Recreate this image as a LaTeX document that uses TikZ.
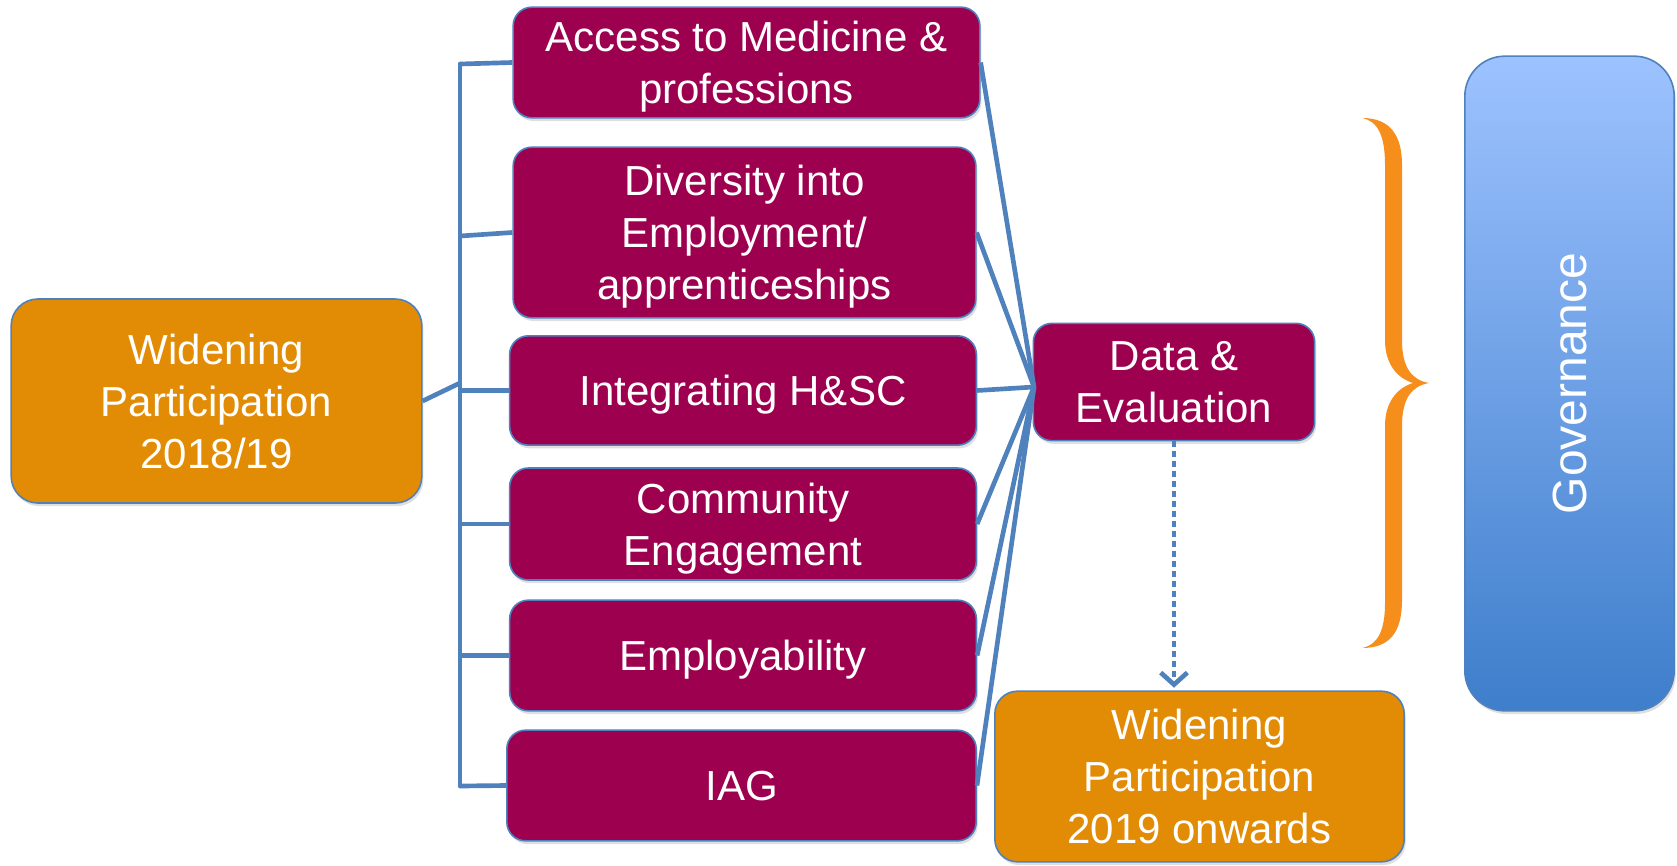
\documentclass[tikz,border=0pt]{standalone}
\usepackage{fontspec}
\setmainfont{Liberation Sans}
\usepackage{tikz}
\usetikzlibrary{arrows.meta,shadows}

\definecolor{wpOrange}{RGB}{226,139,5}
\definecolor{wpMagenta}{RGB}{158,0,80}
\definecolor{wpBlue}{RGB}{79,129,189}
\definecolor{braceOrange}{RGB}{246,142,28}
\definecolor{govTop}{RGB}{157,194,255}
\definecolor{govBottom}{RGB}{62,126,203}

\tikzset{
  boxshadow/.style={drop shadow={shadow xshift=1.2pt,shadow yshift=-2.4pt,opacity=0.25}},
  wpbox/.style={draw=wpBlue,line width=1.2pt,fill=wpOrange,rounded corners=20pt,text=white,
    align=center,font=\fontsize{31.5}{39}\selectfont,boxshadow,text depth=-1.5pt},
  strandbox/.style={draw=wpBlue,line width=1.2pt,fill=wpMagenta,rounded corners=14pt,text=white,
    align=center,font=\fontsize{31.5}{39}\selectfont,minimum width=350pt,minimum height=83pt,boxshadow,
    text depth=-1.5pt},
  link/.style={draw=wpBlue,line width=3.5pt},
}

\begin{document}
\begin{tikzpicture}[x=0.75pt,y=0.75pt,yscale=-1,xscale=1]
\useasboundingbox (0,0) rectangle (1677,865);

%Rounded Rect: starting point
\node [wpbox,minimum width=308pt,minimum height=153pt] (wp18) at (216.5,401) {Widening\\Participation\\2018/19};

%Rounded Rect: the six strands
\node [strandbox] (access) at (746.5,62.5) {Access to Medicine \&\\professions};
\node [strandbox,minimum width=347pt,minimum height=128pt] (diversity) at (744.5,232.5) {Diversity into\\Employment/\\apprenticeships};
\node [strandbox,minimum height=82pt] (integrating) at (743,390.5) {Integrating H\&SC};
\node [strandbox,minimum height=84pt] (community) at (743,524) {Community\\Engagement};
\node [strandbox] (employ) at (743,655.5) {Employability};
\node [strandbox,minimum width=352pt] (iag) at (741.5,785.5) {IAG};

%Rounded Rect: data and next phase
\node [strandbox,minimum width=211pt,minimum height=88pt] (data) at (1174,382) {Data \&\\Evaluation};
\node [wpbox,rounded corners=17pt,minimum width=307pt,minimum height=128pt] (wp19) at (1199.5,776.5) {Widening\\Participation\\2019 onwards};

%Rounded Rect: governance
\node [draw=wpBlue,line width=1.2pt,rounded corners=30pt,top color=govTop,bottom color=govBottom,
  minimum width=157pt,minimum height=491pt,boxshadow] (gov) at (1569.5,383.5) {};
\node [rotate=90,text=white,font=\fontsize{36}{42}\selectfont] (govtext) at (gov.center) {Governance};

%Straight Lines: bus on the left
\coordinate (bustop) at (460,64);
\coordinate (busbot) at (460,786);
\coordinate (busin) at (460,383);
\coordinate (busdiv) at (460,236);
\draw [link,line cap=round] (bustop) -- (busbot);
\draw [link] (wp18.east) -- (busin);
\draw [link] (bustop) -- (access.west);
\draw [link] (busdiv) -- (diversity.west);
\draw [link] (integrating.west -| bustop) -- (integrating.west);
\draw [link] (community.west -| bustop) -- (community.west);
\draw [link] (employ.west -| bustop) -- (employ.west);
\draw [link] (busbot) -- (iag.west);

%Straight Lines: fan into data
\coordinate (hub) at (1034,387);
\foreach \s in {access,diversity,integrating,community,employ,iag}
  \draw [link] (\s.east) -- (hub);

%Dotted arrow
\draw [link,dash pattern=on 4.5pt off 3pt,-{Straight Barb[length=9pt,width=20pt]},shorten >=2pt]
  (data.south) -- (data.south |- wp19.north);

%Shape: brace
\fill [braceOrange] (1362,118) .. controls (1390,118) and (1402,135) .. (1402,165)
  -- (1402,340) .. controls (1402,368) and (1412,380) .. (1429,383)
  .. controls (1412,386) and (1402,398) .. (1402,426)
  -- (1402,600) .. controls (1402,632) and (1390,648) .. (1362,648)
  .. controls (1378,645) and (1385,630) .. (1385,603)
  -- (1385,426) .. controls (1385,402) and (1397,388) .. (1413,383)
  .. controls (1397,378) and (1385,364) .. (1385,340)
  -- (1385,165) .. controls (1385,136) and (1378,121) .. (1362,118) -- cycle;

\end{tikzpicture}
\end{document}
